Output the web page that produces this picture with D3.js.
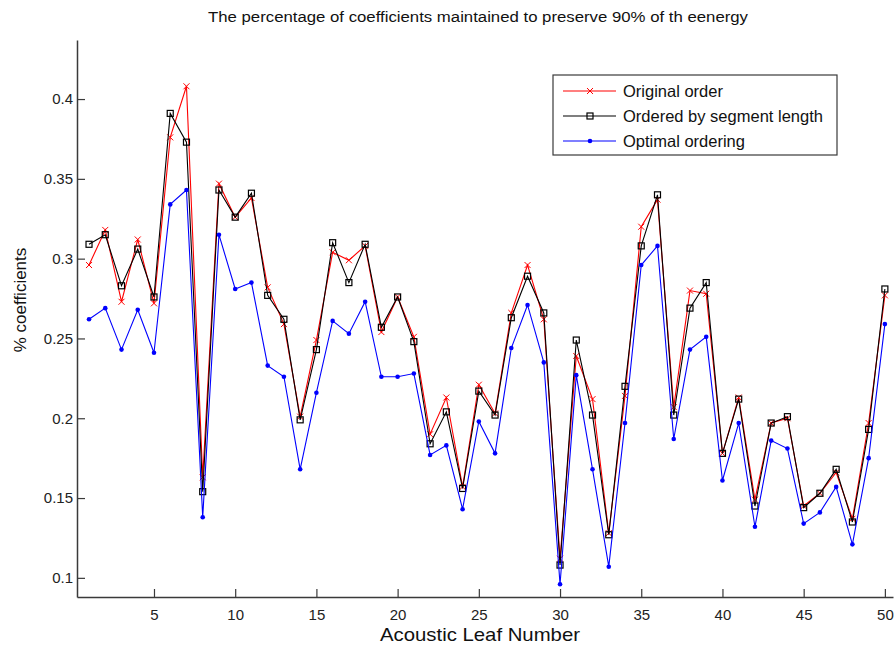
<!DOCTYPE html>
<html>
<head>
<meta charset="utf-8">
<script src="https://cdn.jsdelivr.net/npm/d3@7"></script>
<style>
  body { margin: 0; background: #fff; }
  svg { display: block; }
</style>
</head>
<body>
<div id="chart"></div>
<script>
const leaves = [1,2,3,4,5,6,7,8,9,10,11,12,13,14,15,16,17,18,19,20,21,22,23,24,25,
  26,27,28,29,30,31,32,33,34,35,36,37,38,39,40,41,42,43,44,45,46,47,48,49,50];

const originalOrder = [0.296,0.318,0.273,0.312,0.272,0.376,0.408,0.163,0.347,0.326,
  0.338,0.282,0.259,0.201,0.249,0.304,0.299,0.308,0.254,0.276,
  0.251,0.190,0.213,0.157,0.221,0.203,0.266,0.296,0.262,0.112,
  0.239,0.212,0.128,0.214,0.320,0.337,0.207,0.280,0.278,0.178,
  0.213,0.149,0.197,0.200,0.145,0.153,0.166,0.137,0.197,0.277];

const segmentOrder = [0.309,0.315,0.283,0.306,0.276,0.391,0.373,0.154,0.343,0.326,
  0.341,0.277,0.262,0.199,0.243,0.310,0.285,0.309,0.257,0.276,
  0.248,0.184,0.204,0.156,0.217,0.202,0.263,0.289,0.266,0.108,
  0.249,0.202,0.127,0.220,0.308,0.340,0.202,0.269,0.285,0.178,
  0.212,0.145,0.197,0.201,0.144,0.153,0.168,0.135,0.193,0.281];

const optimalOrder = [0.262,0.269,0.243,0.268,0.241,0.334,0.343,0.138,0.315,0.281,
  0.285,0.233,0.226,0.168,0.216,0.261,0.253,0.273,0.226,0.226,
  0.228,0.177,0.183,0.143,0.198,0.178,0.244,0.271,0.235,0.096,
  0.227,0.168,0.107,0.197,0.296,0.308,0.187,0.243,0.251,0.161,
  0.197,0.132,0.186,0.181,0.134,0.141,0.157,0.121,0.175,0.259];

const seriesNames = ["Original order", "Ordered by segment length", "Optimal ordering"];
const seriesColors = ["#ff0000", "#000000", "#0000ff"];
const seriesMarkers = ["x", "square", "dot"];

const xTicks = [5,10,15,20,25,30,35,40,45,50];
const yTicks = [0.1,0.15,0.2,0.25,0.3,0.35,0.4];

const width = 895, height = 646;
const margin = { top: 40, right: 2, bottom: 49, left: 77 };

const svg = d3.select("#chart").append("svg")
  .attr("width", width)
  .attr("height", height);

const x = d3.scaleLinear()
  .domain([0.26, 50.5])
  .range([margin.left, width - margin.right]);

const y = d3.scaleLinear()
  .domain([0.088, 0.437])
  .range([height - margin.bottom, margin.top]);

const narrow = "'Liberation Sans Narrow', 'Arial Narrow', sans-serif";
const regular = "'Liberation Sans', Arial, sans-serif";
const axisColor = "#3a3a3a";

// axes (inward ticks like matlab)
const xAxis = svg.append("g")
  .attr("transform", `translate(0,${height - margin.bottom})`)
  .call(d3.axisBottom(x).tickValues(xTicks).tickSizeInner(-8).tickSizeOuter(0).tickPadding(12));

const yAxis = svg.append("g")
  .attr("transform", `translate(${margin.left},0)`)
  .call(d3.axisLeft(y).tickValues(yTicks).tickFormat(d => String(+d.toFixed(2)))
    .tickSizeInner(-8).tickSizeOuter(0).tickPadding(4));

[xAxis, yAxis].forEach(g => {
  g.select(".domain").attr("stroke", axisColor).attr("stroke-width", 1.5);
  g.selectAll(".tick line").attr("stroke", axisColor).attr("stroke-width", 1.2);
  g.selectAll(".tick text")
    .attr("fill", "#222")
    .style("font-family", narrow)
    .style("font-size", "15px");
});

// series
const allSeries = [originalOrder, segmentOrder, optimalOrder];

const line = d3.line()
  .x((d, i) => x(leaves[i]))
  .y(d => y(d));

function drawMarker(g, type, color) {
  if (type === "x") {
    g.append("path")
      .attr("d", "M-3,-3L3,3M-3,3L3,-3")
      .attr("stroke", color).attr("stroke-width", 1).attr("fill", "none");
  } else if (type === "square") {
    g.append("rect")
      .attr("x", -3).attr("y", -3).attr("width", 6).attr("height", 6)
      .attr("stroke", color).attr("stroke-width", 1.2).attr("fill", "none");
  } else {
    g.append("circle")
      .attr("r", 2.3).attr("fill", color);
  }
}

allSeries.forEach((values, s) => {
  const g = svg.append("g");
  g.append("path")
    .datum(values)
    .attr("fill", "none")
    .attr("stroke", seriesColors[s])
    .attr("stroke-width", 1.1)
    .attr("d", line);

  g.selectAll("g.marker")
    .data(values)
    .join("g")
    .attr("class", "marker")
    .attr("transform", (d, i) => `translate(${x(leaves[i])},${y(d)})`)
    .each(function () { drawMarker(d3.select(this), seriesMarkers[s], seriesColors[s]); });
});

// legend
const legend = svg.append("g").attr("transform", "translate(553,75)");
legend.append("rect")
  .attr("width", 284).attr("height", 80)
  .attr("fill", "#fff").attr("stroke", axisColor).attr("stroke-width", 1.2);

seriesNames.forEach((name, i) => {
  const row = legend.append("g").attr("transform", `translate(0,${16 + i * 25})`);
  row.append("line")
    .attr("x1", 10).attr("x2", 63)
    .attr("stroke", seriesColors[i]).attr("stroke-width", 1.1);
  const m = row.append("g").attr("transform", "translate(37,0)");
  drawMarker(m, seriesMarkers[i], seriesColors[i]);
  row.append("text")
    .attr("x", 70).attr("dy", "0.35em")
    .attr("fill", "#111")
    .style("font-family", regular)
    .style("font-size", "16.5px")
    .text(name);
});

// title and axis labels
svg.append("text")
  .attr("x", 478).attr("y", 22)
  .attr("text-anchor", "middle")
  .attr("fill", "#111")
  .style("font-family", narrow)
  .style("font-size", "14px")
  .attr("textLength", 540)
  .attr("lengthAdjust", "spacingAndGlyphs")
  .text("The percentage of coefficients maintained to preserve 90% of th eenergy");

svg.append("text")
  .attr("x", 480).attr("y", 641)
  .attr("text-anchor", "middle")
  .attr("fill", "#111")
  .style("font-family", narrow)
  .style("font-size", "19px")
  .attr("textLength", 200)
  .attr("lengthAdjust", "spacingAndGlyphs")
  .text("Acoustic Leaf Number");

svg.append("text")
  .attr("transform", "translate(26,300) rotate(-90)")
  .attr("text-anchor", "middle")
  .attr("fill", "#111")
  .style("font-family", regular)
  .style("font-size", "17px")
  .text("% coefficients");
</script>
</body>
</html>
